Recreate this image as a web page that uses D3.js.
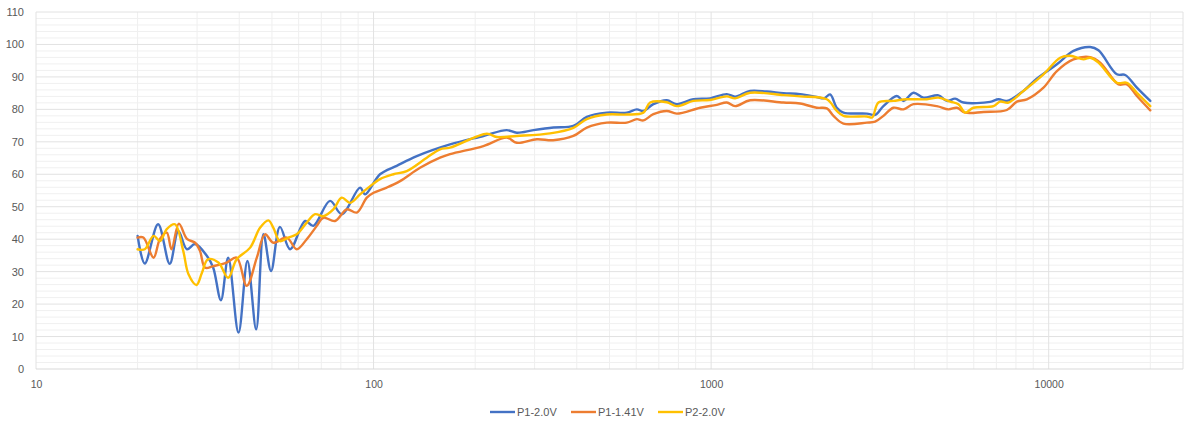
<!DOCTYPE html>
<html>
<head>
<meta charset="utf-8">
<script src="https://cdn.jsdelivr.net/npm/d3@7"></script>
<style>
  html, body { margin: 0; padding: 0; background: #fff; }
  svg { display: block; }
  text { font-family: "Liberation Sans", Arial, sans-serif; fill: #595959; }
</style>
</head>
<body>
<svg id="chart" width="1198" height="421"></svg>
<script>
// ---- Data (frequency in Hz, level in dB) ----
const seriesNames = ["P1-2.0V", "P1-1.41V", "P2-2.0V"];
const seriesColors = ["#4472C4", "#ED7D31", "#FFC000"];

const p1_20V_freq = [20,21,23,24.9,26.4,28,29.6,32.1,33.5,35.3,37.1,39.8,42.3,44.9,47.2,49.7,52.8,56.6,62.7,66.3,74.3,80.5,91.2,94.4,104.5,117.1,134.3,168.5,211.5,248.1,265.6,297.6,341.1,390.8,428.3,491,562.6,602.5,630,674.5,739,791,886,993,1113,1178,1305,1462,1638,1835,2056,2160,2252,2357,2466,2893,3061,3239,3549,3714,3977,4258,4716,4995,5284,5593,6709,7101,7517,8421,9200,10576,11846,13274,14046,15925,16854,18254,20000];
const p1_20V_db   = [41.0,32.5,44.6,32.4,42.5,36.9,38.5,34.8,31.2,21.2,34.3,11.2,33.3,12.2,41.5,30.2,43.8,36.9,45.6,44.1,51.8,47.7,55.9,53.8,60.0,62.6,65.6,69.2,71.8,73.6,72.8,73.6,74.4,74.9,77.7,79.0,79.0,80.0,79.5,81.6,82.8,81.6,83.1,83.4,84.7,83.9,85.7,85.5,85.0,84.7,83.8,83.4,84.6,80.5,79.0,78.7,78.3,81.0,84.1,82.6,85.1,83.6,84.3,82.6,83.3,82.1,82.3,83.1,82.6,85.7,89.4,93.9,98.0,99.2,98.2,90.8,90.6,86.7,82.6];

const p1_141V_freq = [20,20.8,22.3,23.3,24.4,25.2,26.5,28,29.6,30.6,31.7,33.5,36.7,39.3,42.1,45.1,47.7,50.5,55.3,59.2,63.4,67.9,71,76.9,83.3,89.2,95.5,100,109.4,119.8,137.3,157.4,168.5,211.5,248.1,265.6,304.6,340.4,390.8,428.3,491,562.6,602.5,630,674.5,739,791,928,1040,1113,1178,1305,1638,1835,2056,2202,2304,2466,2893,3061,3239,3467,3714,3977,4664,5049,5346,5657,6410,7517,8050,8619,9652,10576,11846,13274,14210,16100,17046,18254,20000];
const p1_141V_db   = [40.5,40.5,34.3,40.1,42.0,36.9,44.8,40.1,38.9,36.4,31.2,31.7,32.8,34.3,25.6,34.3,41.5,38.9,40.5,36.9,40.0,44.1,46.6,45.6,49.2,48.2,52.8,54.3,55.9,57.9,62.0,65.1,66.2,68.7,71.3,69.7,70.8,70.5,71.8,74.4,75.9,75.9,77.0,76.6,78.5,79.5,78.7,80.5,81.4,82.1,81.0,82.8,82.1,81.8,80.5,80.3,78.0,75.6,75.9,76.2,78.0,80.5,80.0,81.6,81.0,80.0,80.5,79.0,79.2,79.8,82.4,83.1,86.7,91.8,95.4,96.1,94.4,87.7,87.7,84.1,79.7];

const p2_20V_freq = [20,21,22.3,23.3,24.4,25.8,27.3,28.3,29.9,31,32.3,34.7,37.1,39.3,43.1,46.1,48.8,50.5,52.8,55.9,59.2,63.4,67.1,71,76,80.5,85.2,91.2,96.5,104.5,114.5,125.4,143.8,157.4,168.5,216.5,231.7,265.6,333.4,390.8,428.3,491,562.6,630,659.6,739,791,886,993,1113,1178,1305,1638,1835,2202,2357,2466,2893,2999,3131,3467,3801,4357,4716,5107,5404,5657,5986,6863,7184,7602,8421,9652,10817,11579,12679,13274,14046,15925,17046,18254,20000];
const p2_20V_db   = [36.9,36.9,41.0,39.4,43.1,44.6,36.4,29.2,25.9,29.6,33.8,32.8,28.1,33.8,37.4,43.5,45.8,43.5,39.4,40.5,41.5,45.1,47.7,47.1,49.2,52.8,51.2,53.8,55.9,58.5,60.0,61.0,65.1,67.7,68.2,72.5,71.5,71.8,72.6,74.3,77.0,78.4,78.4,79.0,82.1,82.2,81.0,82.6,82.9,84.0,83.4,85.1,84.4,84.0,83.1,79.5,78.0,77.8,77.5,82.1,82.6,83.1,83.1,83.6,82.4,81.6,79.0,80.5,81.0,82.4,82.1,85.7,90.8,95.9,96.5,95.4,95.9,94.4,88.2,88.2,85.1,81.0];

const yTicks = [0,10,20,30,40,50,60,70,80,90,100,110];
const xTicks = [10,100,1000,10000];
const xTickLabels = ["10","100","1000","10000"];

// ---- Layout ----
const svg = d3.select("#chart");
const plotLeft = 36, plotRight = 1183, plotTop = 12, plotBottom = 369;
const xMax = 25000;
const x = d3.scaleLog().domain([10, xMax]).range([plotLeft, plotRight]);
const y = d3.scaleLinear().domain([0, 110]).range([plotBottom, plotTop]);

const grid = svg.append("g");
// minor vertical gridlines
const minorX = [];
for (let d = 10; d < xMax; d *= 10) {
  for (let k = 2; k <= 9; k++) { if (d * k <= xMax) minorX.push(d * k); }
}
grid.selectAll(".vmin").data(minorX).enter().append("line")
  .attr("x1", d => x(d)).attr("x2", d => x(d))
  .attr("y1", plotTop).attr("y2", plotBottom)
  .attr("stroke", "#efefef").attr("stroke-width", 1);
// minor horizontal gridlines
const minorY = d3.range(0, 111, 2).filter(v => v % 10 !== 0);
grid.selectAll(".hmin").data(minorY).enter().append("line")
  .attr("x1", plotLeft).attr("x2", plotRight)
  .attr("y1", d => y(d)).attr("y2", d => y(d))
  .attr("stroke", "#f0f0f0").attr("stroke-width", 1);
// major gridlines
grid.selectAll(".vmaj").data(xTicks.concat([xMax])).enter().append("line")
  .attr("x1", d => x(d)).attr("x2", d => x(d))
  .attr("y1", plotTop).attr("y2", plotBottom)
  .attr("stroke", "#e2e2e2").attr("stroke-width", 1);
grid.selectAll(".hmaj").data(yTicks).enter().append("line")
  .attr("x1", plotLeft).attr("x2", plotRight)
  .attr("y1", d => y(d)).attr("y2", d => y(d))
  .attr("stroke", d => d === 0 ? "#d9d9d9" : "#e2e2e2").attr("stroke-width", 1);

// axes (labels only)
const yAxis = d3.axisLeft(y).tickValues(yTicks).tickSize(0).tickPadding(12);
const gy = svg.append("g").attr("transform", `translate(${plotLeft},0)`).call(yAxis);
gy.select(".domain").remove();
gy.selectAll("text").style("font-size", "11px").attr("fill", "#595959");

const xAxis = d3.axisBottom(x).tickValues(xTicks).tickSize(0).tickPadding(12)
  .tickFormat((d, i) => xTickLabels[i]);
const gx = svg.append("g").attr("transform", `translate(0,${plotBottom})`).call(xAxis);
gx.select(".domain").remove();
gx.selectAll("text").style("font-size", "10.5px").attr("fill", "#595959");

// series
const series = [
  {name: seriesNames[0], color: seriesColors[0], f: p1_20V_freq, v: p1_20V_db},
  {name: seriesNames[1], color: seriesColors[1], f: p1_141V_freq, v: p1_141V_db},
  {name: seriesNames[2], color: seriesColors[2], f: p2_20V_freq, v: p2_20V_db}
];
const line = d3.line()
  .x(d => x(d[0])).y(d => y(d[1]))
  .curve(d3.curveCatmullRom.alpha(0.5));
series.forEach(s => {
  const pts = s.f.map((f, i) => [f, s.v[i]]);
  svg.append("path").datum(pts)
    .attr("d", line)
    .attr("fill", "none")
    .attr("stroke", s.color)
    .attr("stroke-width", 2.4)
    .attr("stroke-linejoin", "round")
    .attr("stroke-linecap", "round");
});

// legend
const legendX = [490, 571, 658];
const lg = svg.append("g");
series.forEach((s, i) => {
  const g = lg.append("g").attr("transform", `translate(${legendX[i]},412)`);
  g.append("line").attr("x1", 0).attr("x2", 25).attr("y1", 0).attr("y2", 0)
    .attr("stroke", s.color).attr("stroke-width", 2.4);
  g.append("text").attr("x", 27).attr("y", 4).style("font-size", "11px").text(s.name);
});
</script>
</body>
</html>
